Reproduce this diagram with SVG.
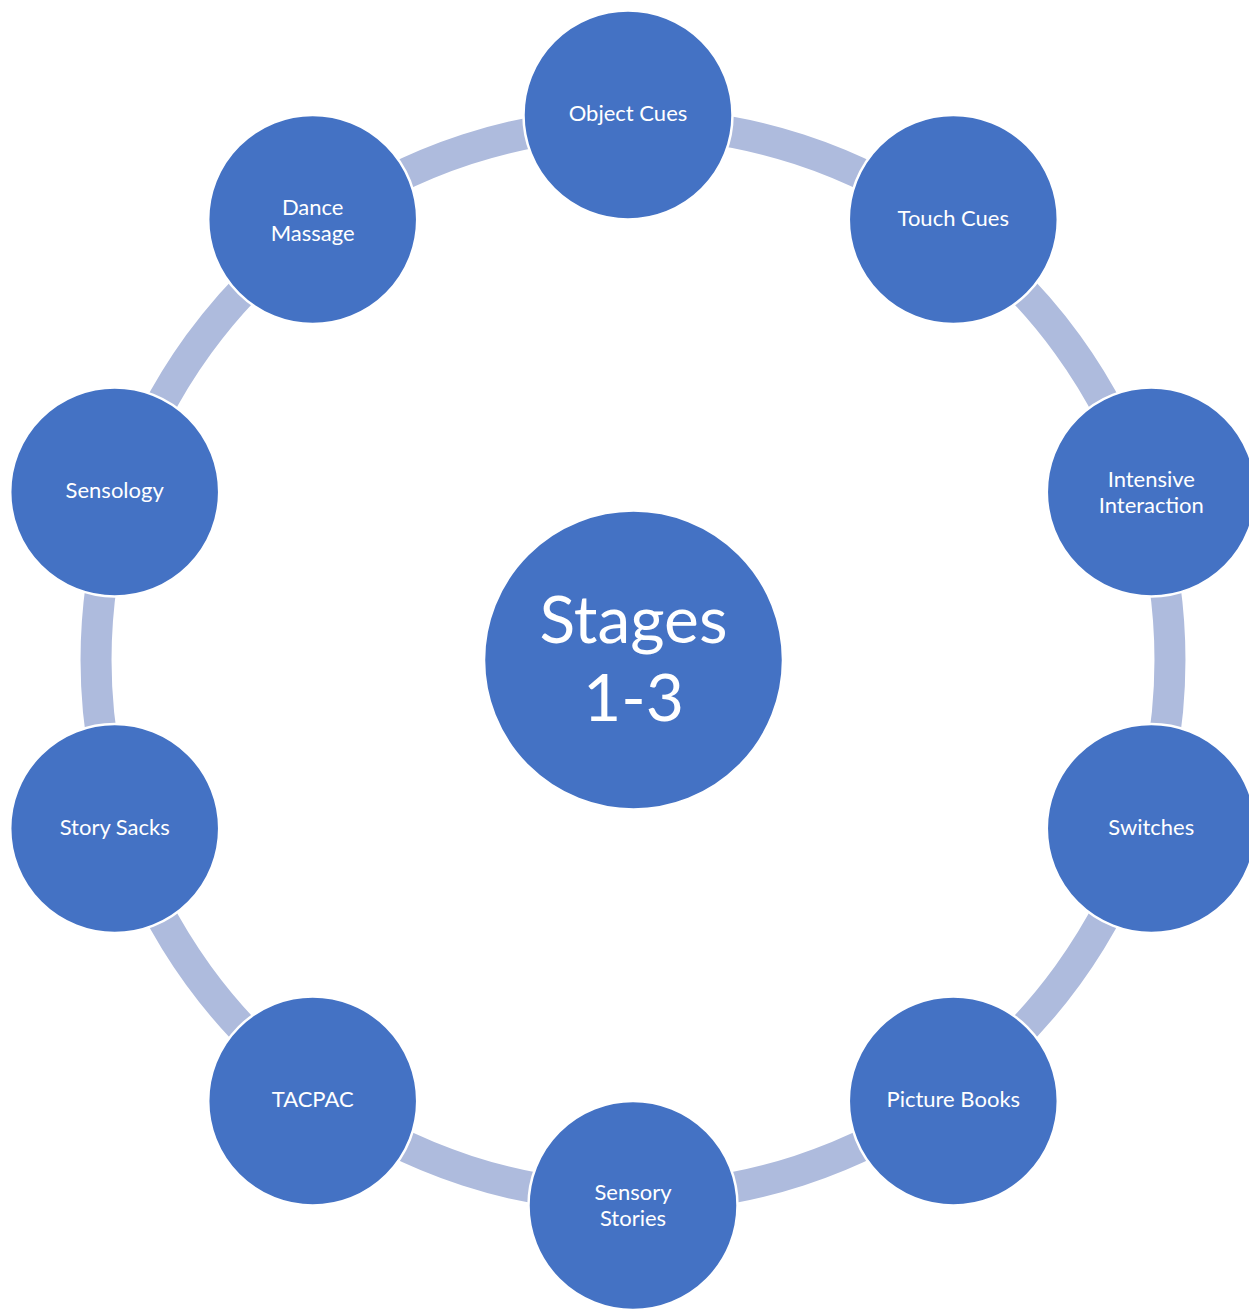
<svg xmlns="http://www.w3.org/2000/svg" width="1249" height="1309" viewBox="0 0 1249 1309">
<style>
.ring{fill:none;stroke:#AEBBDD;stroke-width:31}
.node{fill:#4472C4;stroke:#FFFFFF;stroke-width:2.5}
.lbl{font-family:Lato,"Liberation Sans",sans-serif;font-size:22px;fill:#FFFFFF;text-anchor:middle}
.big{font-family:Lato,"Liberation Sans",sans-serif;font-size:66px;fill:#FFFFFF;text-anchor:middle}
</style>
<rect width="1249" height="1309" fill="#FFFFFF"/>
<g id="connectors">
<path class="ring" d="M633 123 A537 537 0 0 1 948.6 225.6"/>
<path class="ring" d="M948.6 225.6 A537 537 0 0 1 1143.7 494.1"/>
<path class="ring" d="M1143.7 494.1 A537 537 0 0 1 1143.7 825.9"/>
<path class="ring" d="M1143.7 825.9 A537 537 0 0 1 948.6 1094.4"/>
<path class="ring" d="M948.6 1094.4 A537 537 0 0 1 633 1197"/>
<path class="ring" d="M633 1197 A537 537 0 0 1 317.4 1094.4"/>
<path class="ring" d="M317.4 1094.4 A537 537 0 0 1 122.3 825.9"/>
<path class="ring" d="M122.3 825.9 A537 537 0 0 1 122.3 494.1"/>
<path class="ring" d="M122.3 494.1 A537 537 0 0 1 317.4 225.6"/>
<path class="ring" d="M317.4 225.6 A537 537 0 0 1 633 123"/>
</g>
<g id="center">
<circle class="node" cx="633.5" cy="660" r="149.5"/>
<text class="big" x="633.5" y="643">Stages</text>
<text class="big" x="633.5" y="721">1-3</text>
</g>
<g id="object-cues">
<circle class="node" cx="628" cy="115" r="104.5"/>
<text class="lbl" x="628" y="121">Object Cues</text>
</g>
<g id="touch-cues">
<circle class="node" cx="953.3" cy="219.5" r="104.5"/>
<text class="lbl" x="953.3" y="226">Touch Cues</text>
</g>
<g id="intensive-interaction">
<circle class="node" cx="1151.3" cy="492" r="104.5"/>
<text class="lbl" x="1151.3" y="487">Intensive</text>
<text class="lbl" x="1151.3" y="513">Interaction</text>
</g>
<g id="switches">
<circle class="node" cx="1151.3" cy="828.5" r="104.5"/>
<text class="lbl" x="1151.3" y="835">Switches</text>
</g>
<g id="picture-books">
<circle class="node" cx="953.3" cy="1101" r="104.5"/>
<text class="lbl" x="953.3" y="1107">Picture Books</text>
</g>
<g id="sensory-stories">
<circle class="node" cx="633" cy="1205.5" r="104.5"/>
<text class="lbl" x="633" y="1199.5">Sensory</text>
<text class="lbl" x="633" y="1225.5">Stories</text>
</g>
<g id="tacpac">
<circle class="node" cx="312.7" cy="1101" r="104.5"/>
<text class="lbl" x="312.7" y="1107">TACPAC</text>
</g>
<g id="story-sacks">
<circle class="node" cx="114.7" cy="828.5" r="104.5"/>
<text class="lbl" x="114.7" y="835">Story Sacks</text>
</g>
<g id="sensology">
<circle class="node" cx="114.7" cy="492" r="104.5"/>
<text class="lbl" x="114.7" y="498">Sensology</text>
</g>
<g id="dance-massage">
<circle class="node" cx="312.7" cy="219.5" r="104.5"/>
<text class="lbl" x="312.7" y="214.5">Dance</text>
<text class="lbl" x="312.7" y="240.5">Massage</text>
</g>
</svg>
